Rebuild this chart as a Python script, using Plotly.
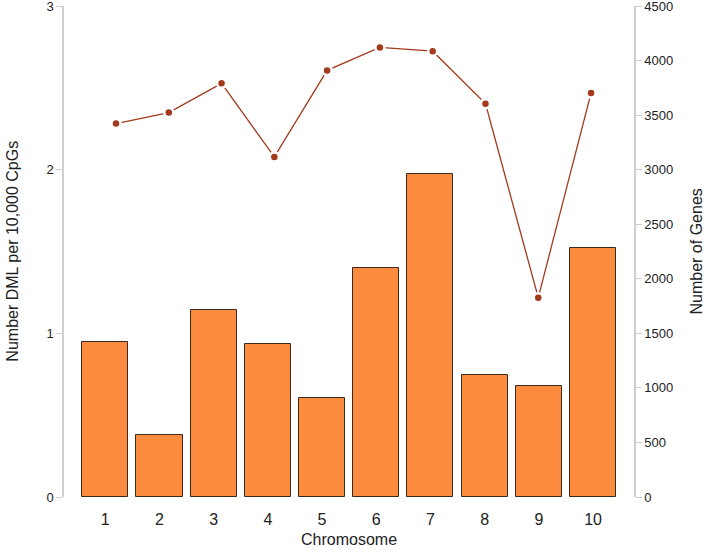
### Loading Package ###

import plotly.graph_objs as go


### Data ###

chromosomes = [1, 2, 3, 4, 5, 6, 7, 8, 9, 10]
chromosome_labels = ["1", "2", "3", "4", "5", "6", "7", "8", "9", "10"]

# DML per 10,000 CpGs (bars, left axis)
dml_per_10k = [0.946, 0.381, 1.143, 0.936, 0.607, 1.399, 1.974, 0.747, 0.680, 1.524]

# Number of genes (line, right axis)
number_genes = [3422, 3523, 3791, 3117, 3910, 4120, 4086, 3605, 1827, 3702]

left_ticks = [0, 1, 2, 3]
right_ticks = [0, 500, 1000, 1500, 2000, 2500, 3000, 3500, 4000, 4500]


### Building Figure ###

font_name = "Liberation Sans, Arial, sans-serif"
axis_grey = "#cfcfcf"
label_color = "#222222"
line_color = "#a33a1c"

figure = go.Figure()

# Bars
figure.add_trace(go.Bar(
    x = chromosomes,
    y = dml_per_10k,
    width = 0.85,
    marker = dict(color = "#fd8c3e",
                  line = dict(color = "#3b2a1c", width = 1)),
    xaxis = "x",
    yaxis = "y",
    hoverinfo = "y"
))

# Gene counts (R style type = "b": dots with gaps in the line)
figure.add_trace(go.Scatter(
    x = chromosomes,
    y = number_genes,
    mode = "lines+markers",
    line = dict(color = line_color, width = 1.3),
    marker = dict(color = line_color, size = 9,
                  line = dict(color = "white", width = 2.5)),
    xaxis = "x2",
    yaxis = "y2",
    hoverinfo = "y"
))

# Shared y axis styling
y_style = dict(
    tickmode = "array",
    ticks = "outside",
    ticklen = 6,
    tickcolor = axis_grey,
    showline = True,
    linecolor = axis_grey,
    linewidth = 1.5,
    showgrid = False,
    zeroline = False,
    automargin = False,
    ticklabeloverflow = "allow",
    tickfont = dict(size = 13),
)

figure.update_layout(
    width = 708,
    height = 552,
    margin = dict(l = 64, r = 74, t = 5.5, b = 54.5),
    paper_bgcolor = "white",
    plot_bgcolor = "white",
    showlegend = False,
    bargap = 0,
    font = dict(family = font_name, color = label_color, size = 13),
    xaxis = dict(
        range = [0.238, 10.756],
        tickmode = "array",
        tickvals = chromosomes,
        ticktext = chromosome_labels,
        ticks = "outside",
        ticklen = 8,
        tickcolor = "rgba(0,0,0,0)",
        tickfont = dict(size = 16),
        showline = False,
        showgrid = False,
        zeroline = False,
        automargin = False,
    ),
    xaxis2 = dict(
        range = [0.015, 10.814],
        overlaying = "x",
        visible = False,
    ),
    yaxis = dict(range = [0, 3], tickvals = left_ticks, **y_style),
    yaxis2 = dict(range = [0, 4500], tickvals = right_ticks,
                  overlaying = "y", side = "right", **y_style),
)

# Axis titles placed as annotations
title_font = dict(size = 16, color = label_color)
figure.add_annotation(text = "Chromosome", xref = "paper", yref = "paper",
                      x = 0.5, y = -0.086, xanchor = "center", yanchor = "middle",
                      showarrow = False, font = title_font)
figure.add_annotation(text = "Number DML per 10,000 CpGs", xref = "paper", yref = "paper",
                      x = -0.091, y = 0.5, xanchor = "center", yanchor = "middle",
                      textangle = -90, showarrow = False, font = title_font)
figure.add_annotation(text = "Number of Genes", xref = "paper", yref = "paper",
                      x = 1.1105, y = 0.5, xanchor = "center", yanchor = "middle",
                      textangle = -90, showarrow = False, font = title_font)

# Page body has a default margin; remove it so the figure fills the window
figure.write_html("out.html",
                  config = {"displayModeBar": False},
                  post_script = "document.body.style.margin = '0';")
